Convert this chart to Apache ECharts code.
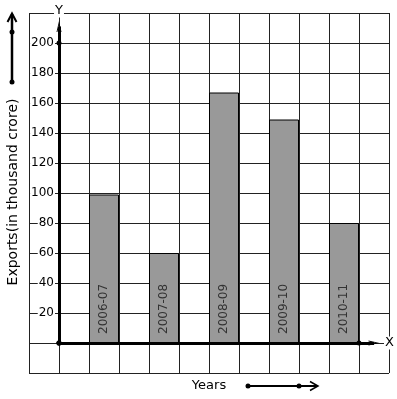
<!DOCTYPE html>
<html>
<head>
<meta charset="utf-8">
<script src="https://cdn.jsdelivr.net/npm/echarts@6/dist/echarts.min.js"></script>
<style>
html, body { margin: 0; padding: 0; background: #fff; }
#barChart { width: 397px; height: 399px; }
</style>
</head>
<body>
<div id="barChart"></div>
<script>
// values
var years = ['2006-07', '2007-08', '2008-09', '2009-10', '2010-11'];
var exportValues = [99, 60, 167, 149, 80];
var yTickLabels = [20, 40, 60, 80, 100, 120, 140, 160, 180, 200];

var FONT = 'DejaVu Sans';
// open chevron, pointing up (markLine rotates it along the line)
var chevron = 'path://M0,10 L5,0 L10,10 L8.2,10 L5,3.6 L1.8,10 Z';

var barData = exportValues.map(function (v, i) {
    return [2 * i + 1.5, v];
});

var dom = document.getElementById('barChart');
var myChart = echarts.init(dom);
var option = {
    animation: false,
    backgroundColor: '#fff',
    textStyle: {fontFamily: FONT},
    grid: {left: 29, top: 13, width: 360, height: 360, outerBoundsMode: 'none'},
    xAxis: {
        type: 'value',
        min: -1,
        max: 11,
        interval: 1,
        name: 'Years',
        nameLocation: 'middle',
        nameGap: 6,
        nameTextStyle: {fontFamily: FONT, fontSize: 13, color: '#000'},
        axisLine: {show: false, onZero: false},
        axisTick: {show: false},
        axisLabel: {show: false},
        splitLine: {show: true, lineStyle: {color: '#222', width: 1}}
    },
    yAxis: {
        type: 'value',
        min: -20,
        max: 220,
        interval: 20,
        offset: -30, // labels sit just left of the x = 0 column line
        axisLine: {show: false, onZero: false},
        axisTick: {show: false},
        axisLabel: {
            margin: 4,
            fontFamily: FONT,
            fontSize: 12,
            color: '#000',
            backgroundColor: '#fff',
            padding: [0, 1, 0, 1],
            formatter: function (v) {
                return yTickLabels.indexOf(v) >= 0 ? String(v) : '';
            }
        },
        splitLine: {show: true, lineStyle: {color: '#222', width: 1}}
    },
    series: [{
        type: 'bar',
        data: barData,
        barWidth: 30,
        itemStyle: {color: '#999', borderColor: '#000', borderWidth: 1},
        label: {
            show: true,
            position: 'insideBottom',
            distance: 9,
            rotate: 90,
            align: 'left',
            verticalAlign: 'middle',
            fontFamily: FONT,
            fontSize: 12,
            color: '#333',
            formatter: function (p) {
                return years[p.dataIndex];
            }
        },
        markLine: {
            silent: true,
            symbol: ['circle', chevron],
            symbolSize: [5, 11],
            lineStyle: {color: '#000', width: 3, type: 'solid'},
            label: {
                show: true,
                position: 'end',
                fontFamily: FONT,
                fontSize: 13,
                color: '#000',
                backgroundColor: '#fff',
                padding: [0, 1, 0, 1]
            },
            data: [
                [{coord: [0, 0]}, {coord: [10.5, 0], label: {formatter: 'X', distance: 10}}],
                [{coord: [0, 0]}, {coord: [0, 211], label: {formatter: 'Y', distance: 9}}]
            ]
        },
        markPoint: {
            silent: true,
            symbol: 'circle',
            symbolSize: 5,
            itemStyle: {color: '#000'},
            label: {show: false},
            data: [{coord: [0, 200]}, {coord: [10, 0]}, {coord: [0, 0]}]
        }
    }],
    graphic: [
        // y axis title
        {
            type: 'text', x: 13, y: 192, rotation: Math.PI / 2,
            style: {
                text: 'Exports(in thousand crore)', font: '14px "DejaVu Sans"', fill: '#000',
                textAlign: 'center', textVerticalAlign: 'middle'
            }
        },
        // arrow at top left
        {type: 'line', shape: {x1: 12, y1: 14, x2: 12, y2: 82}, style: {stroke: '#000', lineWidth: 2.5}},
        {type: 'polyline', shape: {points: [[7.5, 22], [12, 13.5], [16.5, 22]]}, style: {stroke: '#000', lineWidth: 2, fill: null}},
        {type: 'circle', shape: {cx: 12, cy: 32, r: 2.5}, style: {fill: '#000'}},
        {type: 'circle', shape: {cx: 12, cy: 82, r: 2.5}, style: {fill: '#000'}},
        // arrow next to "Years"
        {type: 'line', shape: {x1: 248, y1: 386, x2: 317, y2: 386}, style: {stroke: '#000', lineWidth: 2}},
        {type: 'polyline', shape: {points: [[310, 381.5], [318, 386], [310, 390.5]]}, style: {stroke: '#000', lineWidth: 1.5, fill: null}},
        {type: 'circle', shape: {cx: 248, cy: 386, r: 2.5}, style: {fill: '#000'}},
        {type: 'circle', shape: {cx: 299, cy: 386, r: 2.5}, style: {fill: '#000'}}
    ]
};

if (option && typeof option === 'object') {
    myChart.setOption(option, true);
}
</script>
</body>
</html>
